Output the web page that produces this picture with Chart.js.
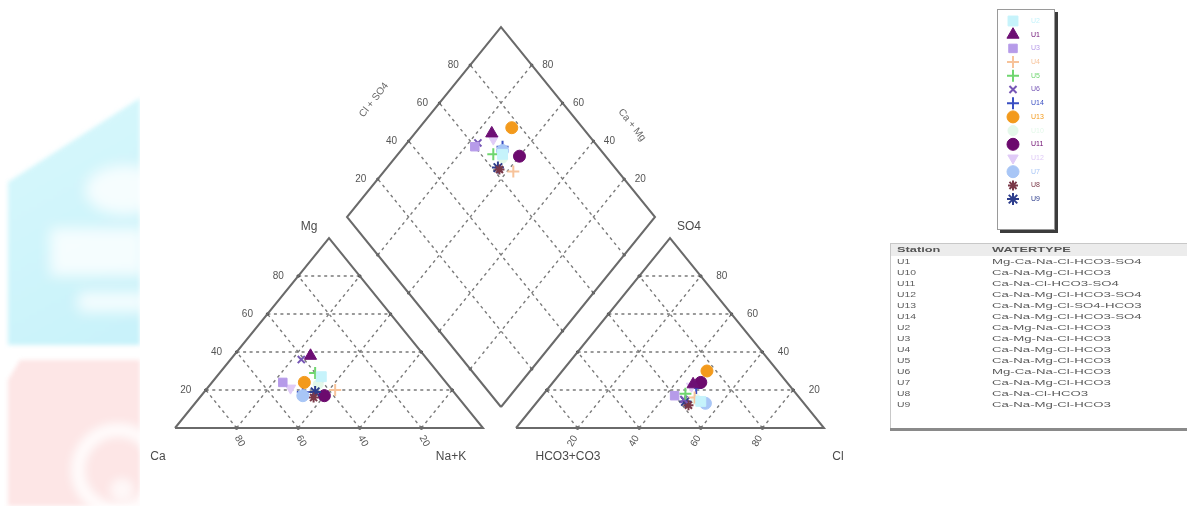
<!DOCTYPE html>
<html>
<head>
<meta charset="utf-8">
<script src="https://cdn.jsdelivr.net/npm/chart.js@4.4.1/dist/chart.umd.min.js"></script>
<style>
html,body{margin:0;padding:0;background:#fff;}
canvas{display:block;}
</style>
</head>
<body>
<canvas id="c" width="1187" height="506"></canvas>
<script>
// ---------------- DATA ----------------
const stations = ['U1','U2','U3','U4','U5','U6','U7','U8','U9','U10','U11','U12','U13','U14'];
// cations, % meq
const ca  = [37,39,53,38,40,41,50,47,45,42,43,52,46,49];
const mg  = [38,27,24,20,29,36,17,16,19,23,17,21,24,19];
const naK = [25,34,23,42,31,23,33,37,36,35,40,27,30,32];
// anions, % meq
const hco3 = [31,33,40,34,36,38,32,38,38,34,28,32,23,31];
const so4  = [23,14,17,16,18,15,13,12,14,15,24,22,30,21];
const cl   = [46,53,43,50,46,47,55,50,48,51,48,46,47,48];
// grid / tick values
const gridLevels = [20,40,60,80];
const tickLabels = ['20','40','60','80'];
// legend order
const legendOrder = ['U2','U1','U3','U4','U5','U6','U14','U13','U10','U11','U12','U7','U8','U9'];
// water type table
const tableStations = ['U1','U10','U11','U12','U13','U14','U2','U3','U4','U5','U6','U7','U8','U9'];
const waterTypes = ['Mg-Ca-Na-Cl-HCO3-SO4','Ca-Na-Mg-Cl-HCO3','Ca-Na-Cl-HCO3-SO4','Ca-Na-Mg-Cl-HCO3-SO4',
  'Ca-Na-Mg-Cl-SO4-HCO3','Ca-Na-Mg-Cl-HCO3-SO4','Ca-Mg-Na-Cl-HCO3','Ca-Mg-Na-Cl-HCO3','Ca-Na-Mg-Cl-HCO3',
  'Ca-Na-Mg-Cl-HCO3','Mg-Ca-Na-Cl-HCO3','Ca-Na-Mg-Cl-HCO3','Ca-Na-Cl-HCO3','Ca-Na-Mg-Cl-HCO3'];

// ---------------- STYLES / LAYOUT ----------------
const markerStyle = {
  U1:{s:'triangle',c:'#6d0f74',r:7},
  U2:{s:'rect',c:'#c6f3fb',r:7},
  U3:{s:'rect',c:'#b69be9',r:6},
  U4:{s:'cross',c:'#f7c39a',r:6,b:2},
  U5:{s:'cross',c:'#6fd66f',r:6,b:2},
  U6:{s:'crossRot',c:'#7656b5',r:5,b:2},
  U7:{s:'circle',c:'#a8c6f6',r:6},
  U8:{s:'star',c:'#7a3848',r:5,b:2},
  U9:{s:'star',c:'#2d3d8c',r:6,b:2},
  U10:{s:'circle',c:'#e4f8ea',r:5},
  U11:{s:'circle',c:'#6c0a6e',r:6},
  U12:{s:'triangle',c:'#e0cbf7',r:6,rot:180},
  U13:{s:'circle',c:'#f39a1c',r:6},
  U14:{s:'cross',c:'#3a4fc2',r:6,b:2}
};
const TW = 308, TH = 190;                 // triangle size
const CAT = {x:175, y:428};               // cation triangle left corner
const AN  = {x:516, y:428};               // anion triangle left corner
const DB  = {x:501, y:407};               // diamond bottom vertex
const DL  = {x:-154, y:-190}, DR = {x:154, y:-190};

function catXY(c, m, n){ return {x: CAT.x + TW*(n + m/2)/100, y: CAT.y - TH*m/100}; }
function anXY(h, s, c){ return {x: AN.x + TW*(c + s/2)/100, y: AN.y - TH*s/100}; }
function diaXY(mf, sf){ return {x: DB.x + DL.x*mf + DR.x*sf, y: DB.y + DL.y*mf + DR.y*sf}; }

// ---------------- DATASETS ----------------
const datasets = [];
stations.forEach((st, i) => {
  const ms = markerStyle[st];
  datasets.push({
    label: st,
    data: [catXY(ca[i], mg[i], naK[i]), anXY(hco3[i], so4[i], cl[i]),
           diaXY((ca[i]+mg[i])/100, (cl[i]+so4[i])/100)],
    showLine: false,
    pointStyle: ms.s,
    pointRadius: ms.r,
    pointRotation: ms.rot || 0,
    backgroundColor: ms.c,
    borderColor: ms.c,
    pointBorderWidth: ms.b || 1,
    order: 1
  });
});
function lineDs(pts, dashed){
  return {
    data: pts, showLine: true, fill: false,
    borderColor: dashed ? '#7a7a7a' : '#6a6a6a',
    borderWidth: dashed ? 1.4 : 2,
    borderDash: dashed ? [3,3.5] : [],
    pointRadius: dashed ? [1.6,1.6] : 0,
    pointBackgroundColor: '#444', pointBorderWidth: 0,
    order: dashed ? 5 : 4
  };
}
// frames
datasets.push(lineDs([catXY(100,0,0), catXY(0,100,0), catXY(0,0,100), catXY(100,0,0)], false));
datasets.push(lineDs([anXY(100,0,0), anXY(0,100,0), anXY(0,0,100), anXY(100,0,0)], false));
datasets.push(lineDs([diaXY(0,0), diaXY(1,0), diaXY(1,1), diaXY(0,1), diaXY(0,0)], false));
// grids
gridLevels.forEach(k => {
  const r = 100 - k;
  datasets.push(lineDs([catXY(r,k,0), catXY(0,k,r)], true));
  datasets.push(lineDs([catXY(r,0,k), catXY(0,r,k)], true));
  datasets.push(lineDs([catXY(k,0,r), catXY(k,r,0)], true));
  datasets.push(lineDs([anXY(r,k,0), anXY(0,k,r)], true));
  datasets.push(lineDs([anXY(r,0,k), anXY(0,r,k)], true));
  datasets.push(lineDs([anXY(k,0,r), anXY(k,r,0)], true));
  datasets.push(lineDs([diaXY(k/100,0), diaXY(k/100,1)], true));
  datasets.push(lineDs([diaXY(0,k/100), diaXY(1,k/100)], true));
});

// ---------------- PLUGINS ----------------
const FONT = '"Liberation Sans", Arial, sans-serif';
function txt(ctx, s, x, y, o){
  o = o || {};
  ctx.save();
  ctx.translate(x, y);
  if (o.rot) ctx.rotate(o.rot*Math.PI/180);
  if (o.sx) ctx.scale(o.sx, 1);
  ctx.font = (o.bold ? 'bold ' : '') + (o.size || 10) + 'px ' + FONT;
  ctx.fillStyle = o.color || '#555';
  ctx.textAlign = o.align || 'center';
  ctx.textBaseline = 'middle';
  ctx.fillText(s, 0, 0);
  ctx.restore();
}

const bgPlugin = {
  id: 'bg',
  beforeDraw(chart){
    const ctx = chart.ctx;
    ctx.save();
    ctx.fillStyle = '#fff';
    ctx.fillRect(0, 0, chart.width, chart.height);
    // faint watermark shapes at left
    ctx.filter = 'blur(2px)';
    const g = ctx.createLinearGradient(0, 100, 140, 345);
    g.addColorStop(0, '#d8f8fc'); g.addColorStop(1, '#c8f2fa');
    ctx.fillStyle = g;
    ctx.beginPath();
    ctx.moveTo(8, 345); ctx.lineTo(8, 182); ctx.lineTo(140, 98); ctx.lineTo(140, 345); ctx.closePath();
    ctx.fill();
    ctx.filter = 'blur(7px)';
    ctx.fillStyle = 'rgba(255,255,255,0.8)';
    ctx.fillRect(50, 228, 95, 48);
    ctx.fillRect(78, 292, 70, 20);
    ctx.beginPath(); ctx.ellipse(125, 190, 40, 25, 0, 0, Math.PI*2); ctx.fill();
    ctx.filter = 'blur(2px)';
    ctx.fillStyle = '#fde6e6';
    ctx.beginPath();
    ctx.moveTo(8, 380); ctx.lineTo(20, 360); ctx.lineTo(140, 360); ctx.lineTo(140, 506); ctx.lineTo(8, 506); ctx.closePath();
    ctx.fill();
    ctx.filter = 'blur(5px)';
    ctx.strokeStyle = 'rgba(255,255,255,0.85)';
    ctx.lineWidth = 14;
    ctx.beginPath(); ctx.arc(118, 470, 40, 0, Math.PI*2); ctx.stroke();
    ctx.fillStyle = 'rgba(255,255,255,0.7)';
    ctx.beginPath(); ctx.arc(122, 490, 12, 0, Math.PI*2); ctx.fill();
    ctx.filter = 'none';
    ctx.fillStyle = '#fff';
    ctx.fillRect(140, 90, 10, 420);
    ctx.restore();
  }
};

const textPlugin = {
  id: 'texts',
  afterDraw(chart){
    const ctx = chart.ctx;
    const X = v => chart.scales.x.getPixelForValue(v);
    const Y = v => chart.scales.y.getPixelForValue(v);
    gridLevels.forEach((k, i) => {
      const p = catXY(100-k, k, 0);
      txt(ctx, tickLabels[i], X(p.x) - 20, Y(p.y), {size:10});
      const b = catXY(k, 0, 100-k);
      txt(ctx, tickLabels[i], X(b.x) + 3, Y(b.y) + 13, {size:10, rot:60});
      const q = anXY(0, k, 100-k);
      txt(ctx, tickLabels[i], X(q.x) + 21, Y(q.y), {size:10});
      const a = anXY(100-k, 0, k);
      txt(ctx, tickLabels[i], X(a.x) - 5, Y(a.y) + 13, {size:10, rot:-60});
      const dl = diaXY(1, k/100);
      txt(ctx, tickLabels[i], X(dl.x) - 17, Y(dl.y), {size:10});
      const dr = diaXY(k/100, 1);
      txt(ctx, tickLabels[i], X(dr.x) + 16, Y(dr.y), {size:10});
    });
    const top1 = catXY(0,100,0), top2 = anXY(0,100,0);
    txt(ctx, 'Mg', X(top1.x) - 20, Y(top1.y) - 11, {size:12, color:'#4a4a4a'});
    txt(ctx, 'SO4', X(top2.x) + 19, Y(top2.y) - 11, {size:12, color:'#4a4a4a'});
    txt(ctx, 'Ca', 158, 457, {size:12, color:'#4a4a4a'});
    txt(ctx, 'Na+K', 451, 457, {size:12, color:'#4a4a4a'});
    txt(ctx, 'HCO3+CO3', 568, 457, {size:12, color:'#4a4a4a'});
    txt(ctx, 'Cl', 838, 457, {size:12, color:'#4a4a4a'});
    txt(ctx, 'Cl + SO4', 374, 100, {size:10, color:'#666', rot:-52});
    txt(ctx, 'Ca + Mg', 632, 125, {size:10, color:'#666', rot:52});

    // legend box
    ctx.save();
    ctx.fillStyle = '#3c3c3c';
    ctx.fillRect(1000, 12, 58, 221);
    ctx.fillStyle = '#fff';
    ctx.fillRect(997, 9, 58, 221);
    ctx.strokeStyle = '#9a9a9a'; ctx.lineWidth = 1;
    ctx.strokeRect(997.5, 9.5, 57, 220);
    ctx.restore();
    legendOrder.forEach((st, j) => {
      const ms = markerStyle[st];
      const y = 21 + j*13.7;
      ctx.save();
      ctx.fillStyle = ms.c; ctx.strokeStyle = ms.c;
      ctx.lineWidth = ms.b || 1;
      Chart.helpers.drawPoint(ctx, {pointStyle: ms.s, rotation: ms.rot || 0, radius: ms.r, borderWidth: ms.b || 1}, 1013, y);
      ctx.restore();
      txt(ctx, st, 1031, y, {size:7, align:'left', color: ms.c});
    });

    // water type table
    ctx.save();
    ctx.fillStyle = '#ececec';
    ctx.fillRect(890, 243, 297, 13);
    ctx.strokeStyle = '#c8c8c8'; ctx.lineWidth = 1;
    ctx.beginPath(); ctx.moveTo(890, 243.5); ctx.lineTo(1187, 243.5); ctx.stroke();
    ctx.beginPath(); ctx.moveTo(890.5, 243); ctx.lineTo(890.5, 430); ctx.stroke();
    ctx.fillStyle = '#8a8a8a';
    ctx.fillRect(890, 428, 297, 3);
    ctx.restore();
    txt(ctx, 'Station', 897, 250, {size:8, align:'left', bold:true, color:'#555', sx:1.6});
    txt(ctx, 'WATERTYPE', 992, 250, {size:8, align:'left', bold:true, color:'#555', sx:1.6});
    tableStations.forEach((st, j) => {
      const y = 262 + j*11;
      txt(ctx, st, 897, y, {size:8, align:'left', color:'#5a5a5a', sx:1.3});
      txt(ctx, waterTypes[j], 992, y, {size:8, align:'left', color:'#5a5a5a', sx:1.65});
    });
  }
};

new Chart(document.getElementById('c'), {
  type: 'scatter',
  data: { datasets },
  options: {
    responsive: false,
    devicePixelRatio: 1,
    animation: false,
    layout: { padding: 0, autoPadding: false },
    plugins: { legend: {display:false}, tooltip: {enabled:false} },
    scales: {
      x: { type:'linear', min:0, max:1187, display:false },
      y: { type:'linear', min:0, max:506, reverse:true, display:false }
    }
  },
  plugins: [bgPlugin, textPlugin]
});
</script>
</body>
</html>
